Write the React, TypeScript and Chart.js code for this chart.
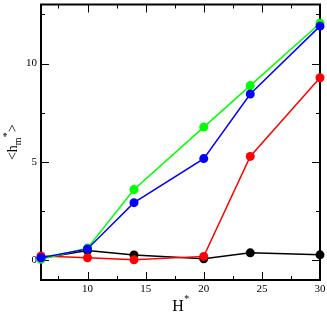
import React, { useEffect, useRef } from "react";
import { Chart, registerables } from "chart.js";

Chart.register(...registerables);

const xValues = [6, 10, 14, 20, 24, 30];
const blackSeries = [0.1, 0.5, 0.27, 0.08, 0.38, 0.28];
const redSeries = [0.22, 0.13, 0.03, 0.2, 5.28, 9.28];
const greenSeries = [0.05, 0.62, 3.6, 6.77, 8.88, 12.05];
const blueSeries = [0.13, 0.58, 2.93, 5.17, 8.45, 11.9];

const xMajorTicks = [10, 15, 20, 25, 30];
const xMinorTicks = [7.5, 12.5, 17.5, 22.5, 27.5];
const yMajorTicks = [0, 5, 10];
const yMinorTicks = [2.5, 7.5, 12.5];

const FONT = "'Liberation Serif', 'DejaVu Serif', serif";

const toPoints = (ys: number[]) => xValues.map((x, i) => ({ x, y: ys[i] }));

const framePlugin = {
  id: "frameAndTitles",
  beforeDatasetsDraw(chart: any) {
    const { ctx, chartArea } = chart;
    const { left, right, top, bottom } = chartArea;
    const xs = chart.scales.x;
    const ys = chart.scales.y;
    ctx.save();
    ctx.strokeStyle = "#000";
    ctx.lineWidth = 1;
    const tick = (len: number, list: number[], isX: boolean) => {
      list.forEach((v) => {
        if (isX) {
          const p = Math.round(xs.getPixelForValue(v)) + 0.5;
          ctx.beginPath();
          ctx.moveTo(p, bottom);
          ctx.lineTo(p, bottom - len);
          ctx.moveTo(p, top);
          ctx.lineTo(p, top + len);
          ctx.stroke();
        } else {
          const p = Math.round(ys.getPixelForValue(v)) + 0.5;
          ctx.beginPath();
          ctx.moveTo(left, p);
          ctx.lineTo(left + len, p);
          ctx.moveTo(right, p);
          ctx.lineTo(right - len, p);
          ctx.stroke();
        }
      });
    };
    tick(8, xMajorTicks, true);
    tick(4, xMinorTicks, true);
    tick(8, yMajorTicks, false);
    tick(4, yMinorTicks, false);
    ctx.lineWidth = 2;
    ctx.strokeRect(left, top, right - left, bottom - top);
    ctx.restore();
  },
  afterDraw(chart: any) {
    const { ctx, chartArea } = chart;
    const { left, right, top, bottom } = chartArea;
    ctx.save();
    // x title: H*
    ctx.fillStyle = "#000";
    ctx.textBaseline = "alphabetic";
    ctx.font = `16px ${FONT}`;
    const hW = ctx.measureText("H").width;
    ctx.font = `10px ${FONT}`;
    const sW = ctx.measureText("*").width;
    const cx = (left + right) / 2;
    const x0 = cx - (hW + sW) / 2;
    ctx.font = `16px ${FONT}`;
    ctx.textAlign = "left";
    ctx.fillText("H", x0, 311);
    ctx.font = `10px ${FONT}`;
    ctx.fillText("*", x0 + hW + 0.5, 302);

    // y title: <h_m^*>
    ctx.translate(17, (top + bottom) / 2);
    ctx.rotate(-Math.PI / 2);
    ctx.font = `14px ${FONT}`;
    const w1 = ctx.measureText("<h").width;
    const w4 = ctx.measureText(">").width;
    ctx.font = `10px ${FONT}`;
    const w2 = ctx.measureText("m").width;
    const w3 = ctx.measureText("*").width;
    let px = -(w1 + w2 + w3 + w4) / 2;
    ctx.font = `14px ${FONT}`;
    ctx.fillText("<h", px, 0);
    px += w1;
    ctx.font = `10px ${FONT}`;
    ctx.fillText("m", px, 4);
    px += w2;
    ctx.fillText("*", px, -7);
    px += w3;
    ctx.font = `14px ${FONT}`;
    ctx.fillText(">", px, 0);
    ctx.restore();
  },
};

const ds = (label: string, data: number[], color: string) => ({
  label,
  data: toPoints(data),
  borderColor: color,
  backgroundColor: color,
  pointBackgroundColor: color,
  pointBorderColor: color,
  pointBorderWidth: 0,
  pointRadius: 4.5,
  borderWidth: 1.5,
  showLine: true,
  tension: 0,
  fill: false,
  clip: false as any,
});

const zeroPad = (s: any) => {
  s.paddingTop = 0;
  s.paddingBottom = 0;
  s.paddingLeft = 0;
  s.paddingRight = 0;
};

export default function App() {
  const ref = useRef<HTMLCanvasElement | null>(null);
  useEffect(() => {
    if (!ref.current) return;
    const chart = new Chart(ref.current, {
      type: "scatter",
      data: {
        datasets: [
          ds("blue", blueSeries, "#0000ff"),
          ds("green", greenSeries, "#00ff00"),
          ds("red", redSeries, "#ff0000"),
          ds("black", blackSeries, "#000000"),
        ],
      },
      options: {
        animation: false,
        responsive: true,
        maintainAspectRatio: false,
        layout: { padding: { left: 0, right: 7, top: 2, bottom: 0 } },
        plugins: {
          legend: { display: false },
          tooltip: { enabled: false },
        },
        scales: {
          x: {
            type: "linear",
            min: 6,
            max: 30,
            grid: { display: false, drawTicks: false },
            border: { display: false },
            afterBuildTicks: (s: any) => {
              s.ticks = xMajorTicks.map((v) => ({ value: v }));
            },
            afterFit: (s: any) => {
              s.height = 33;
              zeroPad(s);
            },
            ticks: {
              padding: 3,
              color: "#000",
              font: { family: FONT, size: 11 },
              maxRotation: 0,
              autoSkip: false,
            },
          },
          y: {
            type: "linear",
            min: -1,
            max: 13,
            grid: { display: false, drawTicks: false },
            border: { display: false },
            afterBuildTicks: (s: any) => {
              s.ticks = yMajorTicks.map((v) => ({ value: v }));
            },
            afterFit: (s: any) => {
              s.width = 41;
              zeroPad(s);
            },
            ticks: {
              padding: 4,
              color: "#000",
              font: { family: FONT, size: 11 },
              autoSkip: false,
            },
          },
        },
      },
      plugins: [framePlugin],
    });
    return () => chart.destroy();
  }, []);
  return (
    <div style={{ position: "absolute", left: 0, top: 0, width: 327, height: 313 }}>
      <canvas ref={ref} />
    </div>
  );
}
